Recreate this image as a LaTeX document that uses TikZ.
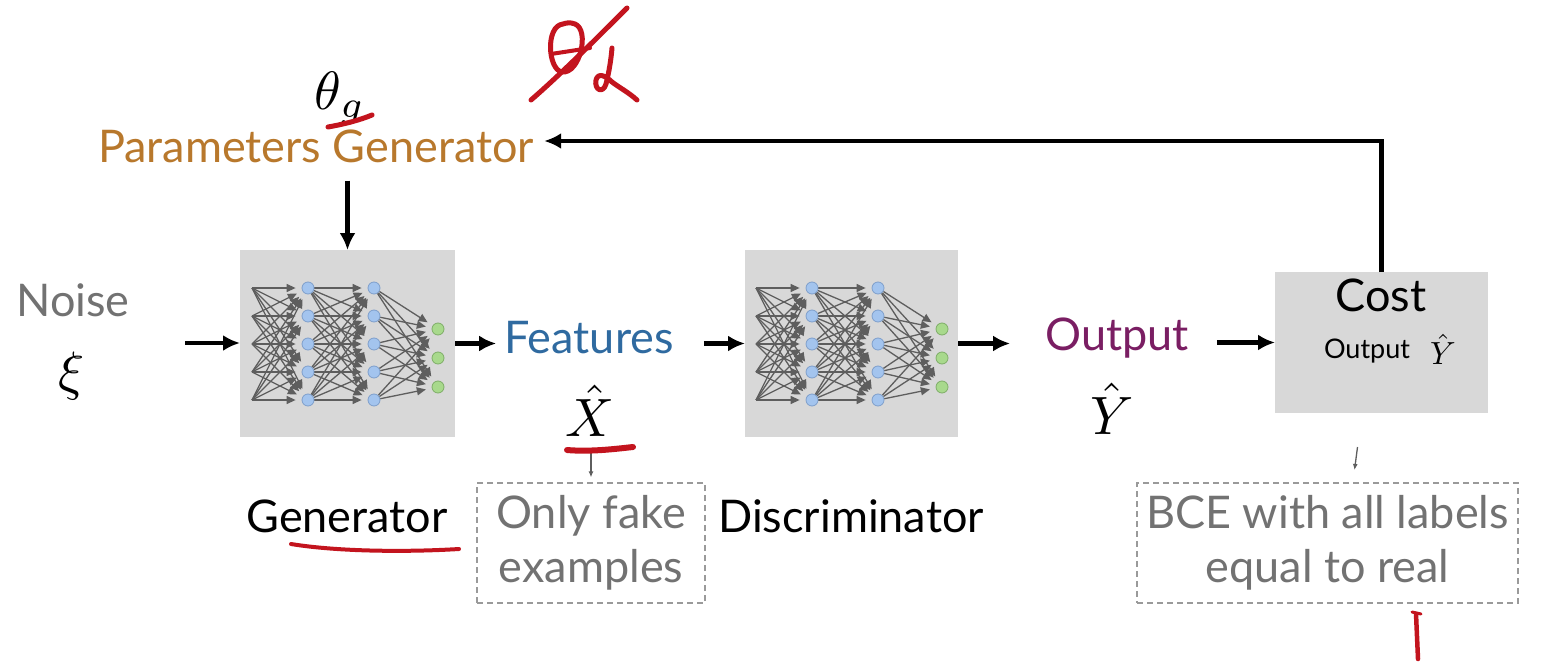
\documentclass[tikz,border=0pt]{standalone}
\usepackage{graphicx}
\usepackage{fontspec}
\setmainfont{Lato}
\usetikzlibrary{arrows.meta,calc}

\definecolor{paramcol}{HTML}{B8782C}
\definecolor{featcol}{HTML}{2F6AA0}
\definecolor{outcol}{HTML}{7A1E63}
\definecolor{boxgray}{HTML}{D8D8D8}
\definecolor{txtgray}{HTML}{727272}
\definecolor{ink}{HTML}{C3141E}
\definecolor{nnblue}{HTML}{A3C4EE}
\definecolor{nnbluerim}{HTML}{7E9FCB}
\definecolor{nngreen}{HTML}{A8D98C}
\definecolor{nngreenrim}{HTML}{7FAE68}
\definecolor{nnedge}{HTML}{5E5E5E}
\definecolor{dashgray}{HTML}{9A9A9A}

\pgfdeclarelayer{back}
\pgfdeclarelayer{edges}
\pgfsetlayers{back,edges,main}

% math symbols are scaled up from the 10pt design size
\newcommand\bigmath[2]{\scalebox{#1}{$#2$}}

\tikzset{
  lbl/.style={inner sep=0pt, font=\fontsize{45}{52}\selectfont},
  mth/.style={inner sep=0pt},
  panel/.style={minimum width=#1, inner sep=0pt, outer sep=0pt},
  flow/.style={line width=4.2pt, -{Latex[length=17pt,width=16pt]}},
  hint/.style={line width=1.3pt, draw=nnedge, -{Latex[length=6pt,width=5pt]}},
  note/.style={draw=dashgray, line width=1.2pt, dash pattern=on 6pt off 4pt,
    text=txtgray, align=center, inner sep=0pt, font=\fontsize{45}{54}\selectfont},
  hid/.style={circle, draw=nnbluerim, fill=nnblue, line width=0.8pt, minimum size=12pt, inner sep=0pt},
  outn/.style={circle, draw=nngreenrim, fill=nngreen, line width=0.8pt, minimum size=12pt, inner sep=0pt},
  nnlink/.style={draw=nnedge, line width=1.3pt, shorten >=6pt, -{Triangle[length=9pt,width=8pt]}},
  pen/.style={draw=ink, line width=5pt, line cap=round, line join=round},
}

% a small fully connected network: 5 inputs, two hidden layers of 5, 3 outputs
\newcommand\drawnet[1]{%
  \foreach \i/\y in {1/288,2/316,3/344,4/372,5/400}{
    \coordinate (#1in\i) at (252,\y);
    \node[hid] (#1a\i) at (308,\y) {};
    \node[hid] (#1b\i) at (374,\y) {};
  }
  \foreach \k/\y in {1/329,2/358,3/387}{
    \node[outn] (#1c\k) at (438,\y) {};
  }
  \begin{pgfonlayer}{edges}
    \foreach \i in {1,...,5}{
      \foreach \j in {1,...,5}{
        \draw[nnlink] (#1in\i) -- (#1a\j);
        \draw[nnlink] (#1a\i) -- (#1b\j);
      }
      \foreach \k in {1,2,3}{
        \draw[nnlink] (#1b\i) -- (#1c\k);
      }
    }
  \end{pgfonlayer}
}

\begin{document}
\begin{tikzpicture}[x=1pt,y=-1pt]
\useasboundingbox (0,0) rectangle (1560,666);

% generator, discriminator and cost panels
\node[panel=215pt, minimum height=187pt] (gen) at (347.5,343.5) {};
\node[panel=213pt, minimum height=187pt] (disc) at (851.5,343.5) {};
\node[panel=213pt, minimum height=141pt] (cost) at (1381.5,342.5) {};
\begin{pgfonlayer}{back}
  \fill[white] (0,0) rectangle (1560,666);
  \fill[boxgray] (gen.south west) rectangle (gen.north east);
  \fill[boxgray] (disc.south west) rectangle (disc.north east);
  \fill[boxgray] (cost.south west) rectangle (cost.north east);
\end{pgfonlayer}

\drawnet{g}
\begin{scope}[xshift=504pt]
  \drawnet{d}
\end{scope}

% labels
\node[lbl, text=txtgray] (noise) at (73,300) {Noise};
\node[mth] (xi) at (72,376) {\bigmath{5.4}{\xi}};
\node[mth] (theta) at (340,98) {\bigmath{5.4}{\theta_g}};
\node[lbl, text=paramcol] (params) at (316,146) {Parameters Generator};
\node[lbl, text=featcol] (feat) at (589,338) {Features};
\node[mth] (xhat) at (590,411) {\bigmath{5.4}{\hat{X}}};
\node[lbl, text=outcol] (out) at (1117,338) {Output};
\node[mth] (yhat) at (1112,409) {\bigmath{5.4}{\hat{Y}}};
\node[lbl] (genlbl) at (347,516) {Generator};
\node[lbl] (disclbl) at (851,516) {Discriminator};
\node[lbl] (costlbl) at (1381,295) {Cost};
\node[inner sep=0pt, font=\fontsize{27}{30}\selectfont] (costin) at (1367,351) {Output};
\node[mth] (costy) at (1443,349) {\bigmath{3.2}{\hat{Y}}};

% dashed notes
\node[note, minimum width=228pt, minimum height=120pt] (fake) at (591,543) {Only fake\\examples};
\node[note, minimum width=381pt, minimum height=120pt] (bce) at (1327.5,543) {BCE with all labels\\equal to real};

% main flow
\coordinate (noisein) at (185,343);
\draw[flow] (noisein) -- (noisein -| gen.west);
\draw[flow, shorten >=8pt] (gen.east) -- (gen.east -| feat.west);
\draw[flow, shorten <=30pt] (disc.west -| feat.east) -- (disc.west);
\draw[flow, shorten >=35pt] (disc.east) -- (disc.east -| out.west);
\draw[flow, shorten <=28pt] (cost.west -| out.east) -- (cost.west);
\draw[flow, shorten >=10pt] (cost.north) |- ([yshift=5pt]params.east);
\draw[flow, shorten <=18pt] (params.south -| gen.north) -- (gen.north);

% thin pointers to the notes
\draw[hint, shorten <=16pt, shorten >=5pt] (xhat.south -| fake.north) -- (fake.north);
\draw[hint] ($(cost.south)+(-24,34)$) -- ($(cost.south)+(-27,57)$);

% red pen annotations
\draw[pen] (563,24) .. controls (545,26) and (548,70) .. (562,72)
           .. controls (580,74) and (590,30) .. (575,24) .. controls (570,22) and (566,23) .. (563,24);
\draw[pen, line width=4pt] (551,54) -- (590,48);
\draw[pen] (531,100) .. controls (560,75) and (600,35) .. (627,8);
\draw[pen] (612,48) .. controls (611,60) and (609,72) .. (606,84)
           .. controls (603,94) and (594,90) .. (596,80)
           .. controls (598,72) and (606,76) .. (612,82)
           .. controls (620,88) and (628,92) .. (637,100);
\draw[pen] (328,127) .. controls (345,124) and (360,120) .. (372,115);
\draw[pen, line width=4pt] (291,544) .. controls (340,552) and (410,552) .. (459,549);
\draw[pen, line width=6pt] (567,450) .. controls (590,452) and (615,449) .. (633,447);
\draw[pen, line width=4.5pt] (1416,614) -- (1418,659);
\draw[pen, line width=3pt] (1412,612) -- (1421,614);
\end{tikzpicture}
\end{document}
